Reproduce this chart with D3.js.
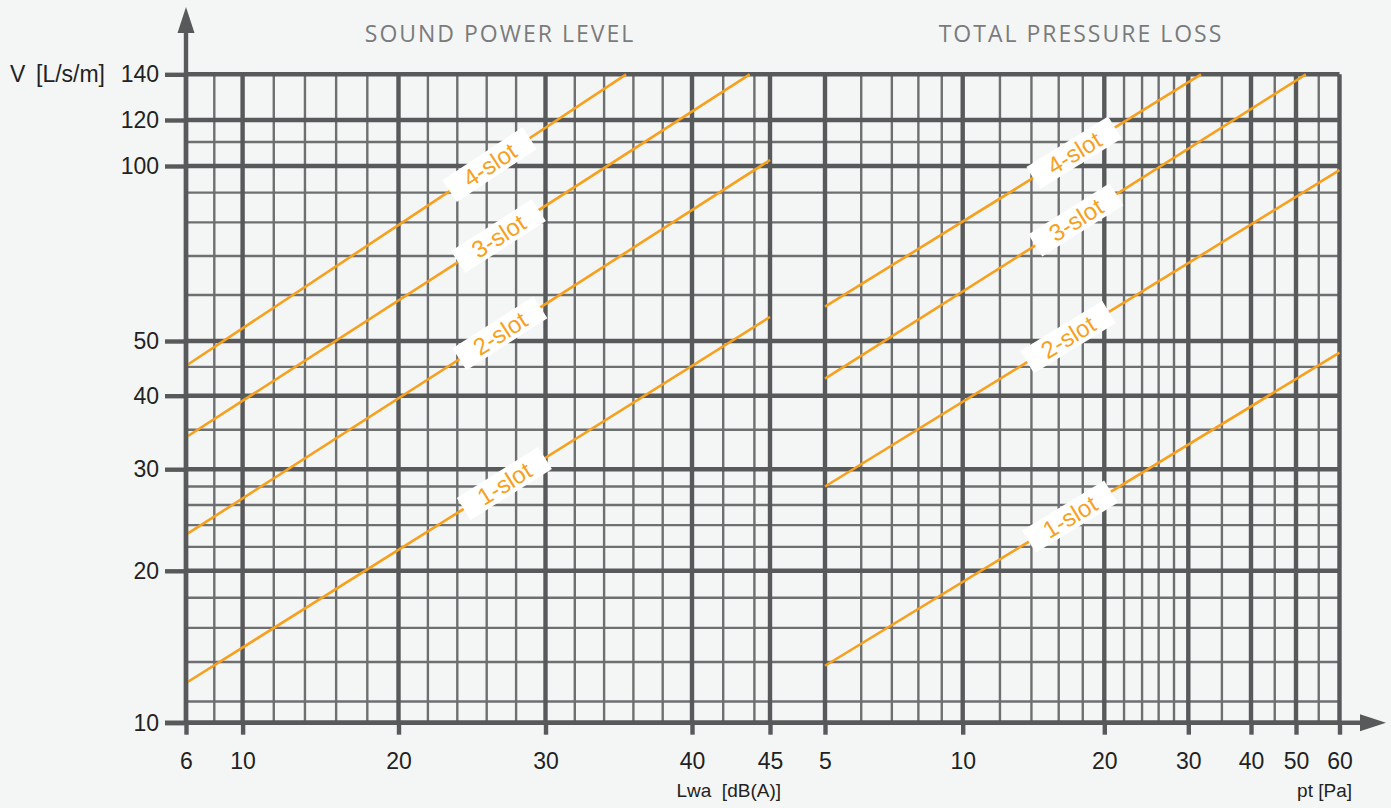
<!DOCTYPE html>
<html>
<head>
<meta charset="utf-8">
<script src="https://cdnjs.cloudflare.com/ajax/libs/d3/7.8.5/d3.min.js"></script>
<style>
  html, body { margin: 0; padding: 0; background: #f4f6f5; }
  svg { display: block; }
  .tick text { font-family: "Liberation Sans", Arial, sans-serif; font-size: 23px; fill: #222; }
</style>
</head>
<body>
<svg id="chart"></svg>
<script>
const W = 1391, H = 808;

// axis ticks (major) and grid lines (minor)
const vTicks = [10, 20, 30, 40, 50, 100, 120, 140];
const vMinor = [12, 14, 16, 18, 22, 24, 26, 28, 35, 45, 60, 70, 80, 90, 110];
const lwaTicks = [6, 10, 20, 30, 40, 45];
const lwaMinor = [8, 12, 14, 16, 18, 22, 24, 26, 28, 32, 34, 36, 38, 42, 44];
const ptTicks = [5, 10, 20, 30, 40, 50, 60];
const ptMinor = [6, 7, 8, 9, 12, 14, 16, 18, 22, 24, 26, 28, 35, 45, 55];

const slots = ["1-slot", "2-slot", "3-slot", "4-slot"];

// sound power level: [Lwa, V] at both ends of each line
const lwaStart = [[6, 12.9], [6, 23.1], [6, 34.0], [6, 45.2]];
const lwaEnd = [[45, 55.0], [45, 102.4], [43.7, 140], [35.5, 140]];
const lwaLabelAt = [27.2, 26.9, 26.8, 26.2];

// total pressure loss: [pt, V]
const ptStart = [[5, 13.8], [5, 28.0], [5, 42.9], [5, 57.3]];
const ptEnd = [[60, 47.7], [60, 98.4], [52.1, 140], [31.8, 140]];
const ptLabelAt = [16.9, 16.75, 17.4, 17.25];

// the printed chart is hand drawn, so the scales are pinned at the labelled ticks
const yKnots = [10, 12, 20, 30, 40, 50, 100, 120, 140];
const yKnotPx = [722.7, 701.5, 570.8, 469.2, 395.7, 341, 166, 120, 74.3];
const xLPx = [186, 242.6, 398.5, 545.5, 692, 770];
const xRPx = [825, 962.7, 1104.3, 1188.3, 1251, 1296, 1339.5];

const gridMajor = "#58595b", gridMinor = "#6e6f70", orange = "#f7a01e";

const y = d3.scaleLog().domain(yKnots).range(yKnotPx);
const xL = d3.scaleLinear().domain(lwaTicks).range(xLPx);
const xR = d3.scaleLog().domain(ptTicks).range(xRPx);

const yTop = y(140), yBot = y(10);
const xLeft = xL(6), xRight = xR(60);

const svg = d3.select("#chart").attr("width", W).attr("height", H);

// minor grid
const gMinor = svg.append("g").attr("stroke", gridMinor).attr("stroke-width", 2.4);
gMinor.selectAll("line.h").data(vMinor).join("line")
  .attr("x1", xLeft).attr("x2", xRight)
  .attr("y1", d => y(d)).attr("y2", d => y(d));
gMinor.selectAll("line.vl").data(lwaMinor).join("line").attr("class", "vl")
  .attr("x1", d => xL(d)).attr("x2", d => xL(d))
  .attr("y1", yTop).attr("y2", yBot);
gMinor.selectAll("line.vr").data(ptMinor).join("line").attr("class", "vr")
  .attr("x1", d => xR(d)).attr("x2", d => xR(d))
  .attr("y1", yTop).attr("y2", yBot);

// major grid
const gMajor = svg.append("g").attr("stroke", gridMajor).attr("stroke-width", 4.4);
gMajor.selectAll("line.h").data(vTicks).join("line").attr("class", "h")
  .attr("x1", xLeft).attr("x2", xRight)
  .attr("y1", d => y(d)).attr("y2", d => y(d));
gMajor.selectAll("line.vl").data(lwaTicks).join("line").attr("class", "vl")
  .attr("x1", d => xL(d)).attr("x2", d => xL(d))
  .attr("y1", yTop).attr("y2", yBot);
gMajor.selectAll("line.vr").data(ptTicks).join("line").attr("class", "vr")
  .attr("x1", d => xR(d)).attr("x2", d => xR(d))
  .attr("y1", yTop).attr("y2", yBot);

// axes with tick labels
function styleAxis(g) {
  g.select(".domain").remove();
  g.selectAll(".tick line").attr("stroke", gridMajor).attr("stroke-width", 4.4);
}
svg.append("g")
  .attr("transform", `translate(${xLeft},0)`)
  .call(d3.axisLeft(y).tickValues(vTicks).tickSize(21).tickPadding(6).tickFormat(d3.format("d")))
  .call(styleAxis);
svg.append("g")
  .attr("transform", `translate(0,${yBot})`)
  .call(d3.axisBottom(xL).tickValues(lwaTicks).tickSize(12).tickPadding(18).tickFormat(d3.format("d")))
  .call(styleAxis);
svg.append("g")
  .attr("transform", `translate(0,${yBot})`)
  .call(d3.axisBottom(xR).tickValues(ptTicks).tickSize(12).tickPadding(18).tickFormat(d3.format("d")))
  .call(styleAxis);

// slot lines with labels
function drawSeries(x, starts, ends, labelAt) {
  const line = d3.line().x(d => x(d[0])).y(d => y(d[1]));
  svg.append("g").selectAll("path")
    .data(slots.map((s, i) => [starts[i], ends[i]]))
    .join("path")
    .attr("fill", "none")
    .attr("stroke", orange)
    .attr("stroke-width", 2.6)
    .attr("d", line);

  const labels = svg.append("g").selectAll("g")
    .data(slots.map((s, i) => {
      const x0 = x(starts[i][0]), y0 = y(starts[i][1]);
      const x1 = x(ends[i][0]), y1 = y(ends[i][1]);
      const cx = x(labelAt[i]);
      const cy = y0 + (y1 - y0) * (cx - x0) / (x1 - x0);
      const ang = Math.atan2(y1 - y0, x1 - x0) * 180 / Math.PI;
      return { text: s, cx, cy, ang };
    }))
    .join("g")
    .attr("transform", d => `translate(${d.cx},${d.cy}) rotate(${d.ang})`);
  labels.append("rect")
    .attr("x", -48).attr("y", -13).attr("width", 96).attr("height", 26)
    .attr("fill", "#fff");
  labels.append("text")
    .attr("text-anchor", "middle")
    .attr("dy", "0.36em")
    .attr("font-family", "Liberation Sans, Arial, sans-serif")
    .attr("font-size", 24)
    .attr("fill", orange)
    .text(d => d.text);
}
drawSeries(xL, lwaStart, lwaEnd, lwaLabelAt);
drawSeries(xR, ptStart, ptEnd, ptLabelAt);

// axis lines and arrows
svg.append("line")
  .attr("x1", xLeft).attr("x2", xLeft).attr("y1", yBot).attr("y2", 30)
  .attr("stroke", gridMajor).attr("stroke-width", 4.4);
svg.append("path")
  .attr("d", `M${xLeft},7 L${xLeft - 8.5},33 L${xLeft + 8.5},33 Z`)
  .attr("fill", gridMajor);
svg.append("line")
  .attr("x1", xLeft - 21).attr("x2", 1362).attr("y1", yBot).attr("y2", yBot)
  .attr("stroke", gridMajor).attr("stroke-width", 4.4);
svg.append("path")
  .attr("d", `M1386,${yBot} L1360,${yBot - 8.5} L1360,${yBot + 8.5} Z`)
  .attr("fill", gridMajor);

// titles
svg.selectAll("text.title")
  .data([["SOUND POWER LEVEL", 500], ["TOTAL PRESSURE LOSS", 1081]])
  .join("text")
  .attr("class", "title")
  .attr("x", d => d[1]).attr("y", 42)
  .attr("text-anchor", "middle")
  .attr("font-family", "Open Sans, Noto Sans, sans-serif")
  .attr("font-size", 23)
  .attr("letter-spacing", 2)
  .attr("fill", "#7a7b7c")
  .text(d => d[0]);

// axis names
const axisFont = "Liberation Sans, Arial, sans-serif";
svg.append("text").attr("x", 10).attr("y", 82)
  .attr("font-family", axisFont).attr("font-size", 23).attr("fill", "#222")
  .text("V");
svg.append("text").attr("x", 36).attr("y", 82)
  .attr("font-family", axisFont).attr("font-size", 23).attr("fill", "#222")
  .text("[L/s/m]");
svg.append("text").attr("x", 781).attr("y", 797).attr("text-anchor", "end")
  .attr("font-family", axisFont).attr("font-size", 19).attr("fill", "#222")
  .style("white-space", "pre")
  .text("Lwa  [dB(A)]");
svg.append("text").attr("x", 1352).attr("y", 797).attr("text-anchor", "end")
  .attr("font-family", axisFont).attr("font-size", 19).attr("fill", "#222")
  .text("pt [Pa]");
</script>
</body>
</html>
